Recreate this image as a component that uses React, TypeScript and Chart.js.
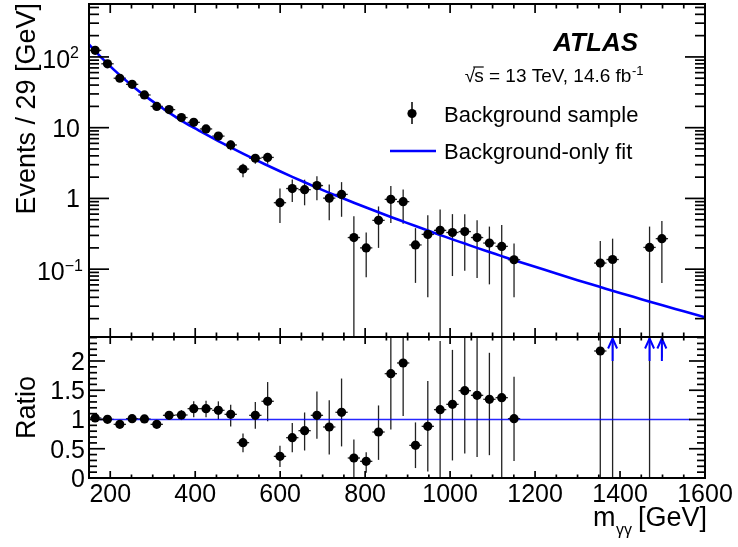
import React, { useEffect, useRef } from "react";
import { Chart, registerables } from "chart.js";

Chart.register(...registerables);

// ---------------- data ----------------
const BIN_CENTERS = [
  164.5, 193.5, 222.5, 251.5, 280.5, 309.5, 338.5, 367.5, 396.5, 425.5,
  454.5, 483.5, 512.5, 541.5, 570.5, 599.5, 628.5, 657.5, 686.5, 715.5,
  744.5, 773.5, 802.5, 831.5, 860.5, 889.5, 918.5, 947.5, 976.5, 1005.5,
  1034.5, 1063.5, 1092.5, 1121.5, 1150.5, 1353.5, 1382.5, 1469.5, 1498.5,
];
const BIN_HALF = 14.5;

const EVENTS = [
  124, 80, 50, 41, 29, 20, 18, 13.9, 11.9, 9.6,
  7.6, 5.7, 2.6, 3.7, 3.8, 0.87, 1.38, 1.33, 1.52, 1.01,
  1.14, 0.28, 0.2, 0.49, 0.97, 0.9, 0.22, 0.31, 0.354, 0.33,
  0.34, 0.28, 0.234, 0.21, 0.136, 0.122, 0.137, 0.203, 0.27,
];
const EVENTS_HI = [
  130, 84, 53, 43.5, 31, 21.6, 19.5, 15.2, 13.2, 10.8,
  8.6, 6.6, 3.1, 4.2, 4.4, 1.38, 1.85, 1.84, 2.06, 1.57,
  1.7, 0.56, 0.33, 0.77, 1.5, 1.34, 0.38, 0.58, 0.7, 0.6,
  0.6, 0.49, 0.4, 0.42, 0.23, 0.25, 0.27, 0.4, 0.48,
];
const EVENTS_LO = [
  118, 76, 47, 38.5, 27, 18.4, 16.5, 12.6, 10.6, 8.4,
  6.6, 4.8, 2.0, 3.1, 3.1, 0.45, 0.89, 0.8, 0.94, 0.49,
  0.55, 0, 0.077, 0.2, 0.45, 0.44, 0.064, 0.04, 0, 0.08,
  0.095, 0.075, 0.061, 0, 0.04, 0, 0, 0, 0.064,
];

const RATIO = [
  1.026, 1.003, 0.917, 1.014, 1.009, 0.917, 1.071, 1.077, 1.185, 1.185,
  1.157, 1.088, 0.604, 1.071, 1.311, 0.37, 0.689, 0.809, 1.071, 0.872,
  1.123, 0.342, 0.285, 0.786, 1.783, 1.966, 0.558, 0.883, 1.168, 1.259,
  1.493, 1.413, 1.345, 1.373, 1.014, 2.171, 2.97, 5.4, 8.8,
];
const RATIO_HI = [
  1.076, 1.05, 0.965, 1.065, 1.06, 0.97, 1.13, 1.16, 1.31, 1.32,
  1.31, 1.25, 0.76, 1.3, 1.64, 0.55, 0.94, 1.12, 1.48, 1.33,
  1.7, 0.66, 0.44, 1.24, 2.75, 2.85, 0.95, 1.66, 2.34, 2.19,
  2.6, 2.45, 2.14, 2.75, 1.73, 4.5, 5.9, 10.7, 15.6,
];
const RATIO_LO = [
  0.976, 0.955, 0.87, 0.96, 0.955, 0.865, 1.01, 0.99, 1.04, 1.04,
  1.0, 0.88, 0.44, 0.84, 0.97, 0.19, 0.44, 0.47, 0.67, 0.4,
  0.54, 0, 0.09, 0.31, 0.83, 1.06, 0.17, 0.11, 0, 0.3,
  0.42, 0.36, 0.39, 0, 0.29, 0, 0, 0, 2.06,
];

const FIT_X = [
  150, 164.5, 193.5, 222.5, 251.5, 280.5, 309.5, 338.5, 367.5, 396.5,
  425.5, 454.5, 483.5, 512.5, 541.5, 570.5, 599.5, 628.5, 657.5, 686.5,
  715.5, 744.5, 773.5, 802.5, 831.5, 860.5, 889.5, 918.5, 947.5, 976.5,
  1005.5, 1034.5, 1063.5, 1092.5, 1121.5, 1150.5, 1200, 1250, 1300, 1350,
  1400, 1450, 1500, 1550, 1600,
];
const FIT_Y = [
  151, 121, 80.4, 55.3, 39.3, 28.6, 21.4, 16.3, 12.6, 10.0,
  8.02, 6.47, 5.26, 4.3, 3.53, 2.92, 2.42, 2.02, 1.69, 1.42,
  1.2, 1.02, 0.871, 0.745, 0.638, 0.548, 0.472, 0.407, 0.352, 0.305,
  0.264, 0.23, 0.2, 0.175, 0.153, 0.134, 0.108, 0.0867, 0.07, 0.0568,
  0.0461, 0.0377, 0.0308, 0.0254, 0.0209,
];

const RATIO_LINE_X = [164.5, 1565];
const RATIO_LINE_Y = [1, 1];

const X_TICK_VALUES = [200, 400, 600, 800, 1000, 1200, 1400, 1600];
const X_TICK_LABELS = ["200", "400", "600", "800", "1000", "1200", "1400", "1600"];
const LOG_TICK_VALUES = [0.1, 1, 10, 100];
const LOG_TICK_BASES = ["10", "1", "10", "10"];
const LOG_TICK_EXPS = ["\u22121", "", "", "2"];
const RATIO_TICK_VALUES = [0, 0.5, 1, 1.5, 2];
const RATIO_TICK_LABELS = ["0", "0.5", "1", "1.5", "2"];

const X_MIN = 150;
const X_MAX = 1600;
const Y_MIN = 0.011;
const Y_MAX = 560;
const R_MIN = 0;
const R_MAX = 2.41;
const ARROW_FROM = 2.0;

// ---------------- layout ----------------
const W = 738;
const H = 547;
const LEFT = 89;
const RIGHT_PAD = 33;
const TOP = 4;
const SPLIT = 337;
const BOTTOM = 478;
const FONT = '"Liberation Sans", Arial, Helvetica, sans-serif';

function line(ctx: CanvasRenderingContext2D, x1: number, y1: number, x2: number, y2: number) {
  ctx.beginPath();
  ctx.moveTo(x1, y1);
  ctx.lineTo(x2, y2);
  ctx.stroke();
}

function text(
  ctx: CanvasRenderingContext2D,
  s: string,
  x: number,
  y: number,
  font: string,
  align: CanvasTextAlign = "left",
  rot = 0
) {
  ctx.save();
  ctx.font = font;
  ctx.fillStyle = "#000";
  ctx.textAlign = align;
  ctx.textBaseline = "alphabetic";
  ctx.translate(x, y);
  if (rot) ctx.rotate(rot);
  ctx.fillText(s, 0, 0);
  ctx.restore();
}

function drawFrame(ctx: CanvasRenderingContext2D, a: any) {
  ctx.save();
  ctx.strokeStyle = "#000";
  ctx.lineWidth = 2;
  ctx.strokeRect(a.left, a.top, a.right - a.left, a.bottom - a.top);
  ctx.restore();
}

function drawXTicks(ctx: CanvasRenderingContext2D, xs: any, a: any, major: number, minor: number) {
  ctx.save();
  ctx.strokeStyle = "#000";
  ctx.lineWidth = 1.7;
  for (let v = X_MIN + 50; v < X_MAX; v += 50) {
    const px = xs.getPixelForValue(v);
    const len = v % 200 === 0 ? major : minor;
    line(ctx, px, a.bottom, px, a.bottom - len);
    line(ctx, px, a.top, px, a.top + len);
  }
  ctx.restore();
}

const topPlugin = {
  id: "topPanel",
  beforeDatasetsDraw(chart: any) {
    const { ctx, chartArea: a } = chart;
    const xs = chart.scales.x;
    const ys = chart.scales.y;
    ctx.save();
    ctx.beginPath();
    ctx.rect(a.left, a.top, a.right - a.left, a.bottom - a.top);
    ctx.clip();
    ctx.strokeStyle = "#222";
    ctx.lineWidth = 1.3;
    BIN_CENTERS.forEach((c, i) => {
      const px = xs.getPixelForValue(c);
      const hi = ys.getPixelForValue(EVENTS_HI[i]);
      const lo = EVENTS_LO[i] > 0 ? ys.getPixelForValue(EVENTS_LO[i]) : a.bottom + 2;
      line(ctx, px, hi, px, lo);
      const py = ys.getPixelForValue(EVENTS[i]);
      line(ctx, xs.getPixelForValue(c - BIN_HALF), py, xs.getPixelForValue(c + BIN_HALF), py);
    });
    ctx.restore();
  },
  afterDraw(chart: any) {
    const { ctx, chartArea: a } = chart;
    const xs = chart.scales.x;
    const ys = chart.scales.y;
    drawXTicks(ctx, xs, a, 9, 4.5);
    // log y ticks
    ctx.save();
    ctx.strokeStyle = "#000";
    ctx.lineWidth = 1.7;
    for (let d = -2; d <= 2; d++) {
      for (let k = 1; k <= 9; k++) {
        const v = k * Math.pow(10, d);
        if (v <= Y_MIN || v >= Y_MAX) continue;
        const py = ys.getPixelForValue(v);
        const len = k === 1 ? 20 : 10;
        line(ctx, a.left, py, a.left + len, py);
        line(ctx, a.right, py, a.right - len, py);
      }
    }
    ctx.restore();
    // y labels
    LOG_TICK_VALUES.forEach((v, i) => {
      const py = ys.getPixelForValue(v);
      const exp = LOG_TICK_EXPS[i];
      if (exp) {
        const right = exp.length > 1 ? 83 : 79;
        ctx.save();
        ctx.font = `16px ${FONT}`;
        const sw = ctx.measureText(exp).width;
        ctx.restore();
        text(ctx, exp, right, py + 1.5, `16px ${FONT}`, "right");
        text(ctx, LOG_TICK_BASES[i], right - sw, py + 11, `25px ${FONT}`, "right");
      } else {
        text(ctx, LOG_TICK_BASES[i], 80, py + 9, `25px ${FONT}`, "right");
      }
    });
    // y title
    text(ctx, "Events / 29 [GeV]", 35, 3, `27px ${FONT}`, "right", -Math.PI / 2);

    // ATLAS label
    text(ctx, "ATLAS", 638, 50.5, `italic bold 26px ${FONT}`, "right");

    // sqrt(s) line
    ctx.save();
    const mainFont = `19px ${FONT}`;
    const supFont = `13px ${FONT}`;
    ctx.font = supFont;
    const supW = ctx.measureText("-1").width;
    ctx.font = mainFont;
    const main = "s = 13 TeV, 14.6 fb";
    const mainW = ctx.measureText(main).width;
    const sqrtW = ctx.measureText("\u221A").width;
    const sW = ctx.measureText("s").width;
    ctx.restore();
    const rightEnd = 643;
    const base = 82;
    const x0 = rightEnd - supW - mainW - sqrtW + 1;
    text(ctx, "\u221A", x0, base, mainFont);
    text(ctx, main, x0 + sqrtW - 1, base, mainFont);
    ctx.save();
    ctx.strokeStyle = "#000";
    ctx.lineWidth = 1.2;
    line(ctx, x0 + sqrtW - 2, base - 15, x0 + sqrtW - 1 + sW, base - 15);
    ctx.restore();
    text(ctx, "-1", x0 + sqrtW - 1 + mainW + 0.5, base - 7, supFont);

    // legend
    ctx.save();
    ctx.strokeStyle = "#000";
    ctx.lineWidth = 1.5;
    line(ctx, 412, 102, 412, 124);
    ctx.fillStyle = "#000";
    ctx.beginPath();
    ctx.arc(412, 113.5, 4.6, 0, Math.PI * 2);
    ctx.fill();
    ctx.strokeStyle = "#0000ff";
    ctx.lineWidth = 2.6;
    line(ctx, 390, 151, 436, 151);
    ctx.restore();
    text(ctx, "Background sample", 444, 121.5, `22px ${FONT}`);
    text(ctx, "Background-only fit", 444, 159, `22px ${FONT}`);

    drawFrame(ctx, a);
  },
};

const bottomPlugin = {
  id: "ratioPanel",
  beforeDatasetsDraw(chart: any) {
    const { ctx, chartArea: a } = chart;
    const xs = chart.scales.x;
    const ys = chart.scales.y;
    ctx.save();
    ctx.beginPath();
    ctx.rect(a.left, a.top, a.right - a.left, a.bottom - a.top);
    ctx.clip();
    ctx.strokeStyle = "#222";
    ctx.lineWidth = 1.3;
    BIN_CENTERS.forEach((c, i) => {
      const px = xs.getPixelForValue(c);
      const hi = ys.getPixelForValue(RATIO_HI[i]);
      const lo = ys.getPixelForValue(RATIO_LO[i]);
      line(ctx, px, hi, px, lo);
      if (RATIO[i] <= R_MAX) {
        const py = ys.getPixelForValue(RATIO[i]);
        line(ctx, xs.getPixelForValue(c - BIN_HALF), py, xs.getPixelForValue(c + BIN_HALF), py);
      }
    });
    ctx.restore();
  },
  afterDatasetsDraw(chart: any) {
    const { ctx, chartArea: a } = chart;
    const xs = chart.scales.x;
    const ys = chart.scales.y;
    ctx.save();
    ctx.strokeStyle = "#0000ff";
    ctx.lineWidth = 2;
    BIN_CENTERS.forEach((c, i) => {
      if (RATIO[i] <= R_MAX) return;
      const px = xs.getPixelForValue(c);
      const tail = ys.getPixelForValue(ARROW_FROM);
      const tip = a.top + 1.5;
      line(ctx, px, tail, px, tip);
      ctx.beginPath();
      ctx.moveTo(px - 4.5, tip + 10);
      ctx.lineTo(px, tip);
      ctx.lineTo(px + 4.5, tip + 10);
      ctx.stroke();
    });
    ctx.restore();
  },
  afterDraw(chart: any) {
    const { ctx, chartArea: a } = chart;
    const xs = chart.scales.x;
    const ys = chart.scales.y;
    drawXTicks(ctx, xs, a, 7, 3.5);
    ctx.save();
    ctx.strokeStyle = "#000";
    ctx.lineWidth = 1.7;
    for (let i = 1; i * 0.1 < R_MAX; i++) {
      const v = i / 10;
      const py = ys.getPixelForValue(v);
      const len = i % 5 === 0 ? 16 : 8;
      line(ctx, a.left, py, a.left + len, py);
      line(ctx, a.right, py, a.right - len, py);
    }
    ctx.restore();
    RATIO_TICK_VALUES.forEach((v, i) => {
      const py = ys.getPixelForValue(v);
      text(ctx, RATIO_TICK_LABELS[i], 85, py + 9, `25px ${FONT}`, "right");
    });
    X_TICK_VALUES.forEach((v, i) => {
      const px = xs.getPixelForValue(v);
      text(ctx, X_TICK_LABELS[i], px, 502, `25px ${FONT}`, "center");
    });
    text(ctx, "Ratio", 35, (a.top + a.bottom) / 2, `27px ${FONT}`, "center", -Math.PI / 2);
    // x title
    text(ctx, "[GeV]", 707, 526, `27px ${FONT}`, "right");
    text(ctx, "m", 593, 526, `27px ${FONT}`);
    text(ctx, "\u03B3\u03B3", 616, 535, `16px ${FONT}`);
    drawFrame(ctx, a);
  },
};

export default function App() {
  const topRef = useRef<HTMLCanvasElement>(null);
  const botRef = useRef<HTMLCanvasElement>(null);

  useEffect(() => {
    const common = {
      animation: false as const,
      responsive: false,
      events: [] as any[],
      plugins: { legend: { display: false }, tooltip: { enabled: false } },
    };
    const top = new Chart(topRef.current as HTMLCanvasElement, {
      type: "scatter",
      data: {
        datasets: [
          {
            label: "Background sample",
            data: BIN_CENTERS.map((c, i) => ({ x: c, y: EVENTS[i] })),
            pointRadius: 4.6,
            pointBackgroundColor: "#000",
            pointBorderColor: "#000",
            pointBorderWidth: 0,
            showLine: false,
          },
          {
            type: "line",
            label: "Background-only fit",
            data: FIT_X.map((v, i) => ({ x: v, y: FIT_Y[i] })),
            borderColor: "#0000ff",
            borderWidth: 2.6,
            pointRadius: 0,
            cubicInterpolationMode: "monotone",
            fill: false,
          } as any,
        ],
      },
      options: {
        ...common,
        layout: { padding: { left: LEFT, right: RIGHT_PAD, top: TOP, bottom: H - SPLIT }, autoPadding: false } as any,
        scales: {
          x: { type: "linear", min: X_MIN, max: X_MAX, display: false, bounds: "data" },
          y: { type: "logarithmic", min: Y_MIN, max: Y_MAX, display: false, bounds: "data" },
        },
      } as any,
      plugins: [topPlugin],
    });

    const bot = new Chart(botRef.current as HTMLCanvasElement, {
      type: "scatter",
      data: {
        datasets: [
          {
            label: "Ratio",
            data: BIN_CENTERS.map((c, i) => ({ x: c, y: RATIO[i] })).filter((p) => p.y <= R_MAX),
            pointRadius: 4.6,
            pointBackgroundColor: "#000",
            pointBorderColor: "#000",
            pointBorderWidth: 0,
            showLine: false,
          },
          {
            type: "line",
            label: "Unity",
            data: RATIO_LINE_X.map((v, i) => ({ x: v, y: RATIO_LINE_Y[i] })),
            borderColor: "rgba(0,0,255,0.85)",
            borderWidth: 1.5,
            pointRadius: 0,
            fill: false,
          } as any,
        ],
      },
      options: {
        ...common,
        layout: { padding: { left: LEFT, right: RIGHT_PAD, top: SPLIT, bottom: H - BOTTOM }, autoPadding: false } as any,
        scales: {
          x: { type: "linear", min: X_MIN, max: X_MAX, display: false, bounds: "data" },
          y: { type: "linear", min: R_MIN, max: R_MAX, display: false, bounds: "data" },
        },
      } as any,
      plugins: [bottomPlugin],
    });

    return () => {
      top.destroy();
      bot.destroy();
    };
  }, []);

  return (
    <div style={{ position: "fixed", left: 0, top: 0, width: W, height: H, background: "#fff" }}>
      <canvas ref={topRef} width={W} height={H} style={{ position: "absolute", left: 0, top: 0 }} />
      <canvas ref={botRef} width={W} height={H} style={{ position: "absolute", left: 0, top: 0 }} />
    </div>
  );
}
